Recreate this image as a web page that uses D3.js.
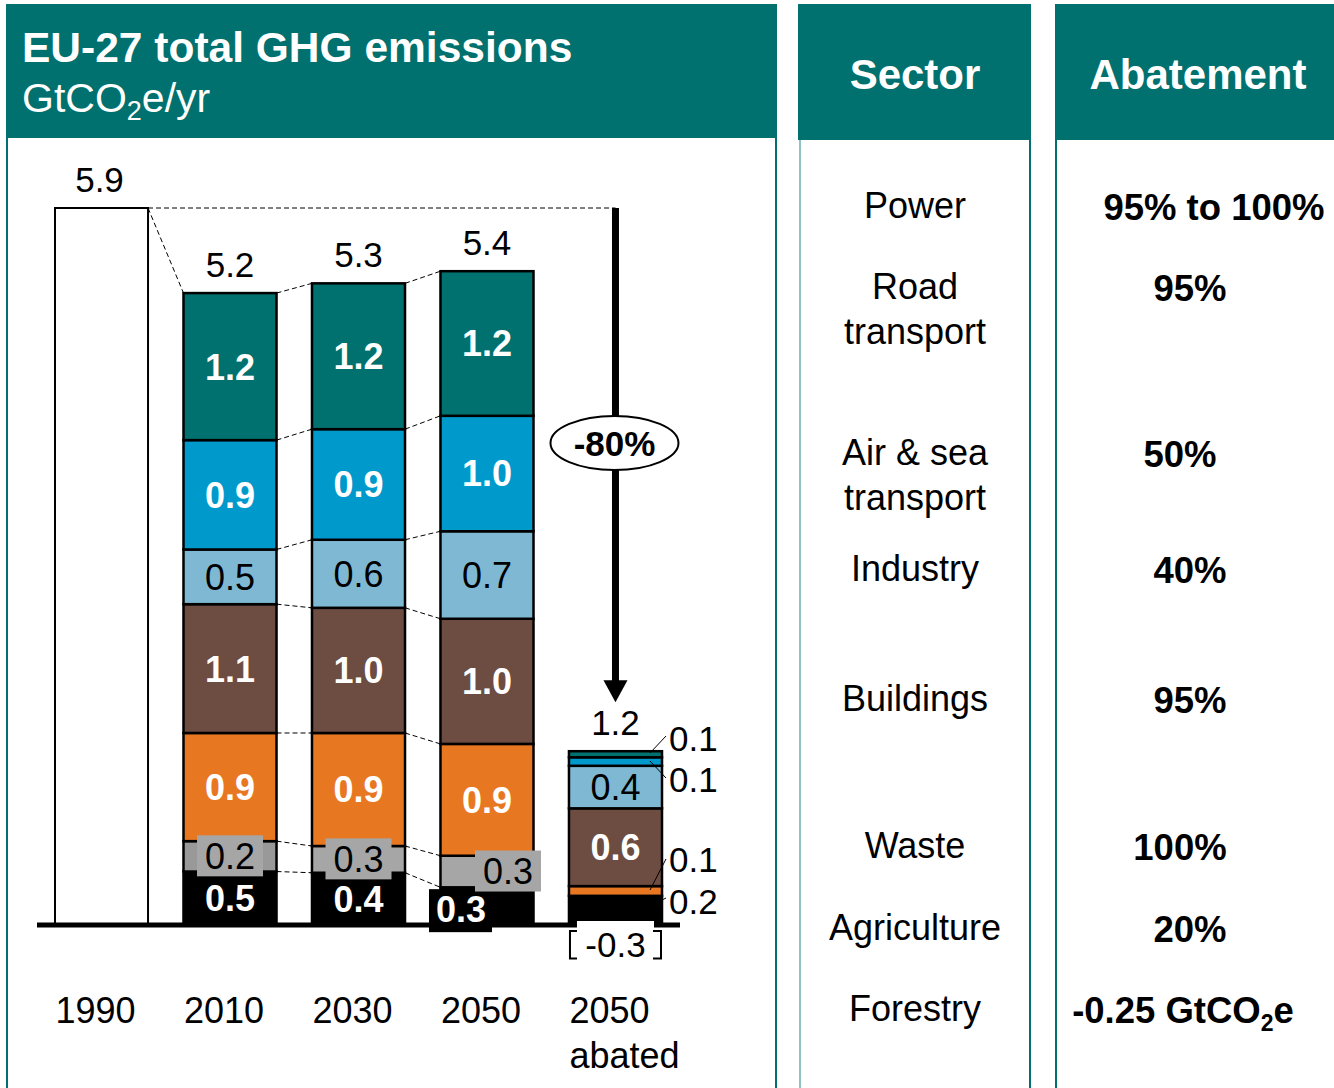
<!DOCTYPE html>
<html>
<head>
<meta charset="utf-8">
<script src="https://cdn.jsdelivr.net/npm/d3@7"></script>
<style>
  body { margin: 0; background: #fff; }
  text { font-family: "Liberation Sans", Arial, sans-serif; }
</style>
</head>
<body>
<script>
// ---- data ----
var years = ["1990", "2010", "2030", "2050", "2050 abated"];
// stacked bottom -> top
var sectors = ["Agriculture", "Waste", "Buildings", "Industry", "Air & sea transport", "Road transport", "Power"];
var total1990 = 5.9;
var agriculture = [0, 0.44, 0.43, 0.31, 0.24];
var waste       = [0, 0.25, 0.22, 0.26, 0];
var buildings   = [0, 0.89, 0.93, 0.92, 0.08];
var industry    = [0, 1.06, 1.03, 1.03, 0.64];
var airSea      = [0, 0.45, 0.56, 0.72, 0.35];
var road        = [0, 0.90, 0.91, 0.95, 0.07];
var power       = [0, 1.21, 1.20, 1.19, 0.05];
var forestry    = [0, 0, 0, 0, -0.3];
var totalLabels = ["5.9", "5.2", "5.3", "5.4", "1.2"];
var segLabels = {
  "2010":        ["0.5", "0.2", "0.9", "1.1", "0.5", "0.9", "1.2"],
  "2030":        ["0.4", "0.3", "0.9", "1.0", "0.6", "0.9", "1.2"],
  "2050":        ["0.3", "0.3", "0.9", "1.0", "0.7", "1.0", "1.2"],
  "2050 abated": ["0.2", "",    "0.1", "0.6", "0.4", "0.1", "0.1"]
};
var forestryLabel = "-0.3";
var reductionLabel = "-80%";
var tableSectors = [["Power"], ["Road", "transport"], ["Air & sea", "transport"], ["Industry"],
                    ["Buildings"], ["Waste"], ["Agriculture"], ["Forestry"]];
var tableAbatement = ["95% to 100%", "95%", "50%", "40%", "95%", "100%", "20%", "-0.25 GtCO2e"];

var colors = ["#000000", "#a6a6a6", "#e87722", "#6d4c41", "#7fb8d3", "#0099cc", "#00716e"];
var whiteBold = [true, false, true, true, false, true, true];
var teal = "#00716e";

// ---- layout ----
var W = 1334, H = 1088;
var svg = d3.select("body").append("svg")
  .attr("width", W)
  .attr("height", H);

// panels
svg.append("rect").attr("x", 6).attr("y", 4).attr("width", 771).attr("height", 134).attr("fill", teal);
svg.append("line").attr("x1", 7).attr("x2", 7).attr("y1", 138).attr("y2", H).attr("stroke", teal).attr("stroke-width", 2);
svg.append("line").attr("x1", 776).attr("x2", 776).attr("y1", 138).attr("y2", H).attr("stroke", teal).attr("stroke-width", 2);

svg.append("rect").attr("x", 798).attr("y", 4).attr("width", 233).attr("height", 136).attr("fill", teal);
svg.append("line").attr("x1", 800).attr("x2", 800).attr("y1", 140).attr("y2", H).attr("stroke", "#8fc3c1").attr("stroke-width", 2);
svg.append("line").attr("x1", 1030).attr("x2", 1030).attr("y1", 140).attr("y2", H).attr("stroke", teal).attr("stroke-width", 2);

svg.append("rect").attr("x", 1055).attr("y", 4).attr("width", 290).attr("height", 136).attr("fill", teal);
svg.append("line").attr("x1", 1056).attr("x2", 1056).attr("y1", 140).attr("y2", H).attr("stroke", teal).attr("stroke-width", 2);

// titles
svg.append("text").attr("x", 22).attr("y", 62)
  .attr("fill", "#fff").attr("font-size", 42.5).attr("font-weight", "bold")
  .text("EU-27 total GHG emissions");
var sub = svg.append("text").attr("x", 22).attr("y", 112)
  .attr("fill", "#fff").attr("font-size", 41);
sub.append("tspan").text("GtCO");
sub.append("tspan").attr("font-size", 27).attr("dy", 8).text("2");
sub.append("tspan").attr("dy", -8).text("e/yr");

svg.append("text").attr("x", 915).attr("y", 89).attr("text-anchor", "middle")
  .attr("fill", "#fff").attr("font-size", 42).attr("font-weight", "bold").text("Sector");
svg.append("text").attr("x", 1198).attr("y", 89).attr("text-anchor", "middle")
  .attr("fill", "#fff").attr("font-size", 42).attr("font-weight", "bold").text("Abatement");

// ---- chart ----
var x = d3.scaleBand().domain(years).range([55, 662]).paddingInner(0.276).paddingOuter(0);
var y = d3.scaleLinear().domain([0, total1990]).range([925, 208]);

var rows = years.map(function(yr, i) {
  return {
    year: yr,
    "Agriculture": agriculture[i], "Waste": waste[i], "Buildings": buildings[i],
    "Industry": industry[i], "Air & sea transport": airSea[i],
    "Road transport": road[i], "Power": power[i]
  };
});
var stacked = d3.stack().keys(sectors)(rows);
var topOf = function(i) { return stacked[stacked.length - 1][i][1]; };

// dashed connectors
var conn = svg.append("g").attr("stroke", "#000").attr("stroke-width", 1).attr("stroke-dasharray", "5,3").attr("fill", "none");
conn.append("line")
  .attr("x1", x("1990") + x.bandwidth()).attr("y1", y(total1990))
  .attr("x2", x("2050 abated") + x.bandwidth() / 2).attr("y2", y(total1990));
conn.append("line")
  .attr("x1", x("1990") + x.bandwidth()).attr("y1", y(total1990))
  .attr("x2", x("2010")).attr("y2", y(topOf(1)));
[1, 2].forEach(function(i) {
  stacked.forEach(function(s) {
    conn.append("line")
      .attr("x1", x(years[i]) + x.bandwidth()).attr("y1", y(s[i][1]))
      .attr("x2", x(years[i + 1])).attr("y2", y(s[i + 1][1]));
  });
});

// 1990 bar
svg.append("rect")
  .attr("x", x("1990")).attr("y", y(total1990))
  .attr("width", x.bandwidth()).attr("height", y(0) - y(total1990))
  .attr("fill", "#fff").attr("stroke", "#000").attr("stroke-width", 2);

// stacked segments
var layer = svg.selectAll("g.layer").data(stacked).enter().append("g").attr("class", "layer")
  .attr("fill", function(d, k) { return colors[k]; });
layer.selectAll("rect")
  .data(function(d) { return d.filter(function(p) { return p.data.year !== "1990" && p[1] - p[0] > 0; }); })
  .enter().append("rect")
  .attr("x", function(p) { return x(p.data.year); })
  .attr("y", function(p) { return y(p[1]); })
  .attr("width", x.bandwidth())
  .attr("height", function(p) { return y(p[0]) - y(p[1]); })
  .attr("fill", function(p, j, nodes) {
    // the 2010 waste block is a shade darker in the original
    return p.data.year === "2010" && d3.select(this.parentNode).datum().key === "Waste" ? "#999999" : null;
  })
  .attr("stroke", "#000").attr("stroke-width", 2.5);

// axis baseline
svg.append("line").attr("x1", 37).attr("x2", 680).attr("y1", y(0)).attr("y2", y(0))
  .attr("stroke", "#000").attr("stroke-width", 5);

// forestry bracket under abated bar
var xa = x("2050 abated"), bw = x.bandwidth();
var yf = y(forestry[4]);
svg.append("rect").attr("x", xa + 8).attr("y", y(0) - 4).attr("width", bw - 16).attr("height", yf - y(0) + 6).attr("fill", "#fff");
svg.append("path")
  .attr("d", "M" + (xa + 8) + "," + (y(0) + 6) + "H" + (xa + 1) + "V" + (yf - 3) + "H" + (xa + 8) +
             "M" + (xa + bw - 9) + "," + (y(0) + 6) + "H" + (xa + bw - 1) + "V" + (yf - 3) + "H" + (xa + bw - 9))
  .attr("fill", "none").attr("stroke", "#000").attr("stroke-width", 2);
svg.append("text").attr("x", xa + bw / 2).attr("y", (y(0) + yf) / 2 + 14)
  .attr("text-anchor", "middle").attr("font-size", 35).text(forestryLabel);

// segment labels
var labelG = svg.append("g");
["2010", "2030", "2050", "2050 abated"].forEach(function(yr) {
  var i = years.indexOf(yr);
  stacked.forEach(function(s, k) {
    var lab = segLabels[yr][k];
    if (!lab) return;
    var cx = x(yr) + bw / 2, cy = (y(s[i][0]) + y(s[i][1])) / 2;
    if (yr === "2050 abated" && k !== 3 && k !== 4) return; // thin ones labelled outside
    if (k === 1) {
      if (yr === "2050") cx += 21;
      labelG.append("rect").attr("x", cx - 33).attr("y", cy - 21).attr("width", 66).attr("height", 41).attr("fill", "#a6a6a6");
    }
    if (k === 0 && yr === "2050") {
      cx -= 26; cy += 3;
      labelG.append("rect").attr("x", cx - 32).attr("y", cy - 20).attr("width", 63).attr("height", 43).attr("fill", "#000");
    }
    labelG.append("text").attr("x", cx).attr("y", cy).attr("dy", "0.36em")
      .attr("text-anchor", "middle").attr("font-size", 36)
      .attr("font-weight", whiteBold[k] ? "bold" : "normal")
      .attr("fill", whiteBold[k] ? "#fff" : "#000")
      .text(lab);
  });
});

// outside labels for the thin abated segments
var outside = [
  { k: 6, ty: 738, lx1: xa + bw + 4, ly1: 736, lx2: xa + bw - 12, ly2: 753 },
  { k: 5, ty: 779, lx1: xa + bw - 12, ly1: 761, lx2: xa + bw + 4, ly2: 778 },
  { k: 2, ty: 859, lx1: xa + bw + 4, ly1: 859, lx2: xa + bw - 12, ly2: 890 },
  { k: 0, ty: 901, lx1: xa + bw + 4, ly1: 898, lx2: xa + bw, ly2: 900 }
];
outside.forEach(function(o) {
  svg.append("line").attr("x1", o.lx1).attr("y1", o.ly1).attr("x2", o.lx2).attr("y2", o.ly2)
    .attr("stroke", "#000").attr("stroke-width", 1);
  svg.append("text").attr("x", xa + bw + 7).attr("y", o.ty).attr("dy", "0.36em")
    .attr("font-size", 35).text(segLabels["2050 abated"][o.k]);
});

// totals above bars
years.forEach(function(yr, i) {
  var t = i === 0 ? total1990 : topOf(i);
  svg.append("text").attr("x", x(yr) + bw / 2 - (i === 0 ? 2 : 0)).attr("y", y(t) - 16)
    .attr("text-anchor", "middle").attr("font-size", 35).text(totalLabels[i]);
});

// -80% arrow
var ax = xa + bw / 2;
var tipY = y(topOf(4)) - 49;
svg.append("line").attr("x1", ax).attr("x2", ax).attr("y1", y(total1990)).attr("y2", tipY - 20)
  .attr("stroke", "#000").attr("stroke-width", 7);
svg.append("path").attr("d", "M" + (ax - 12) + "," + (tipY - 22) + "L" + (ax + 12) + "," + (tipY - 22) + "L" + ax + "," + tipY + "Z")
  .attr("fill", "#000");
svg.append("ellipse").attr("cx", ax - 1).attr("cy", 443).attr("rx", 64).attr("ry", 27)
  .attr("fill", "#fff").attr("stroke", "#000").attr("stroke-width", 2);
svg.append("text").attr("x", ax - 1).attr("y", 443).attr("dy", "0.36em").attr("text-anchor", "middle")
  .attr("font-size", 35).attr("font-weight", "bold").text(reductionLabel);

// category labels
years.forEach(function(yr) {
  var parts = yr.split(" ");
  var t = svg.append("text").attr("x", x(yr) + bw / 2 - 6).attr("y", 1023)
    .attr("text-anchor", "middle").attr("font-size", 36);
  parts.forEach(function(p, j) {
    t.append("tspan").attr("x", x(yr) + bw / 2 - 6 + (j === 1 ? 15 : 0)).attr("dy", j === 0 ? 0 : 45).text(p);
  });
});

// ---- table ----
var rowY = [205, 286, 452, 568, 698, 845, 927, 1008];
var abateX = [1214, 1190, 1180, 1190, 1190, 1180, 1190, 1183];
tableSectors.forEach(function(lines, r) {
  var t = svg.append("text").attr("text-anchor", "middle").attr("font-size", 36);
  lines.forEach(function(l, j) {
    t.append("tspan").attr("x", 915).attr("y", rowY[r] + j * 45).attr("dy", "0.36em").text(l);
  });
});
tableAbatement.forEach(function(a, r) {
  var t = svg.append("text").attr("x", abateX[r]).attr("y", rowY[r] + 2).attr("dy", "0.36em")
    .attr("text-anchor", "middle").attr("font-size", 36.5).attr("font-weight", "bold");
  var m = a.match(/^(.*CO)2(e)$/);
  if (m) {
    t.append("tspan").text(m[1]);
    t.append("tspan").attr("font-size", 23).attr("dy", 8).text("2");
    t.append("tspan").attr("dy", -8).text(m[2]);
  } else {
    t.text(a);
  }
});
</script>
</body>
</html>
